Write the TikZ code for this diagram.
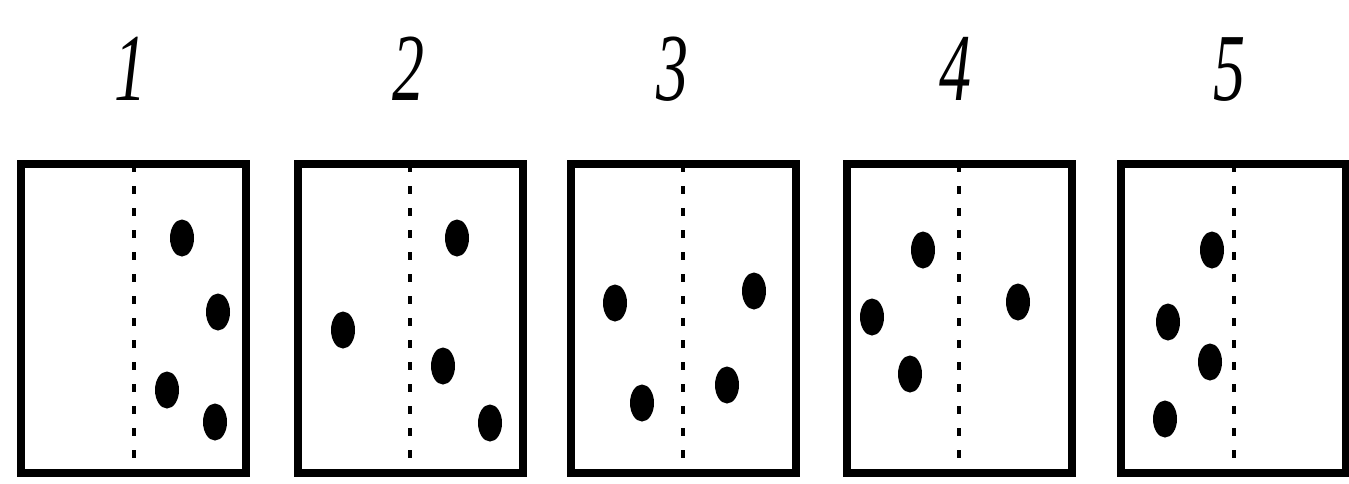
\documentclass[tikz,border=0pt]{standalone}
\usepackage{fontspec}
\setmainfont{Liberation Serif}
\usetikzlibrary{shapes.geometric}

\tikzset{
    cell/.style={draw, line width=8pt, minimum width=225pt, minimum height=309pt, inner sep=0pt, outer sep=0pt},
    divider/.style={line width=4pt, dash pattern=on 8pt off 14pt},
    particle/.style={ellipse, fill=black, minimum width=24pt, minimum height=37pt, inner sep=0pt},
    num/.style={anchor=base, inner sep=0pt, font=\fontsize{64}{64}\selectfont\itshape}
}

\begin{document}
\begin{tikzpicture}[x=1pt, y=-1pt]
        \useasboundingbox (0,0) rectangle (1349,483);

        \node[cell] (B1) at (133.5,318.5) {};
        \node[cell] (B2) at (410,318.5) {};
        \node[cell] (B3) at (683,318.5) {};
        \node[cell] (B4) at (959,318.5) {};
        \node[cell] (B5) at (1233.5,318.5) {};

        \foreach \b in {B1,B2,B3,B4,B5}
            \draw[divider] (\b.north) -- (\b.south);

        \node[num] (N1) at (130,100) {\scalebox{1}[1.5]{1}};
        \node[num] (N2) at (408,100) {\scalebox{1}[1.5]{2}};
        \node[num] (N3) at (672,100) {\scalebox{1}[1.5]{3}};
        \node[num] (N4) at (955,100) {\scalebox{1}[1.5]{4}};
        \node[num] (N5) at (1229,100) {\scalebox{1}[1.5]{5}};

        % box 1
        \node[particle] (P1a) at (182,238) {};
        \node[particle] (P1b) at (218,312) {};
        \node[particle] (P1c) at (167,390) {};
        \node[particle] (P1d) at (215,422) {};
        % box 2
        \node[particle] (P2a) at (457,238) {};
        \node[particle] (P2b) at (343,330) {};
        \node[particle] (P2c) at (443,366) {};
        \node[particle] (P2d) at (490,423) {};
        % box 3
        \node[particle] (P3a) at (615,303) {};
        \node[particle] (P3b) at (642,403) {};
        \node[particle] (P3c) at (754,291) {};
        \node[particle] (P3d) at (727,385) {};
        % box 4
        \node[particle] (P4a) at (923,250) {};
        \node[particle] (P4b) at (872,317) {};
        \node[particle] (P4c) at (910,374) {};
        \node[particle] (P4d) at (1018,302) {};
        % box 5
        \node[particle] (P5a) at (1212,250) {};
        \node[particle] (P5b) at (1168,322) {};
        \node[particle] (P5c) at (1210,362) {};
        \node[particle] (P5d) at (1165,419) {};
    \end{tikzpicture}
\end{document}
